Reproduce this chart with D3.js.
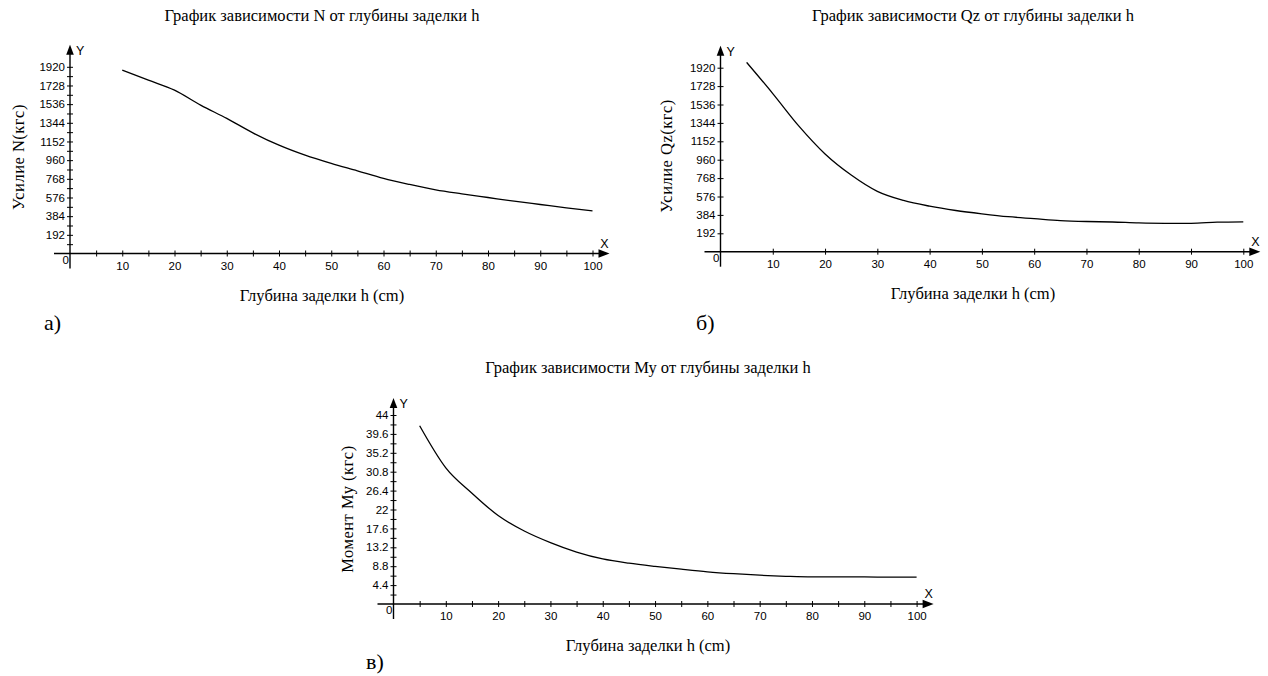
<!DOCTYPE html>
<html>
<head>
<meta charset="utf-8">
<script src="https://cdnjs.cloudflare.com/ajax/libs/d3/7.8.5/d3.min.js"></script>
<style>
body{margin:0;background:#fff;}
.tickText{font-family:"Liberation Sans",Arial,sans-serif;font-size:11.5px;fill:#000;}
.serif{font-family:"Liberation Serif","Times New Roman",serif;fill:#000;}
</style>
</head>
<body>
<script>
// values
var depthN=[10,15,20,25,30,35,40,45,50,55,60,65,70,75,80,85,90,95,100];
var forceN=[1886,1783,1680,1526,1389,1241,1114,1011,926,850,772,710,655,614,576,538,504,470,438];

var depthQz=[5,10,15,20,25,30,35,40,45,50,55,60,65,70,75,80,85,90,95,100];
var forceQz=[1975,1650,1310,1020,800,630,535,475,430,395,365,345,325,315,310,300,296,296,308,312];

var depthMy=[5,10,15,20,25,30,35,40,45,50,55,60,65,70,75,80,85,90,95,100];
var momentMy=[41.5,31.7,25.8,20.6,17.0,14.3,12.1,10.5,9.5,8.75,8.1,7.5,7.05,6.7,6.45,6.3,6.3,6.3,6.25,6.25];

var depthTicks=[10,20,30,40,50,60,70,80,90,100];
var depthMinor=[5,15,25,35,45,55,65,75,85,95];
var forceTicks=[192,384,576,768,960,1152,1344,1536,1728,1920];
var forceMinor=[96,288,480,672,864,1056,1248,1440,1632,1824];
var momentTicks=[4.4,8.8,13.2,17.6,22,26.4,30.8,35.2,39.6,44];
var momentMinor=[2.2,6.6,11,15.4,19.8,24.2,28.6,33,37.4,41.8];

var svg=d3.select("body").append("svg")
          .attr("width",1268)
          .attr("height",676);

var drawChart=function(c)
{
  var xScale=d3.scaleLinear()
               .domain([0,100])
               .range(c.xRange);
  var yScale=d3.scaleLinear()
               .domain([0,c.yMax])
               .range(c.yRange);
  var x0=xScale(0), y0=yScale(0);
  var xEnd=xScale(100), yTop=yScale(c.yMax)-c.arrowGap;

  var g=svg.append("g").classed("chart",true);

  // x axis
  var xAxis=d3.axisBottom(xScale)
              .tickValues(depthTicks.concat(c.xMinor))
              .tickFormat(function(d){ return depthTicks.indexOf(d)>=0 ? d : ""; })
              .tickSize(0)
              .tickPadding(8);
  var gx=g.append("g").classed("xAxis",true)
          .attr("transform","translate(0,"+y0+")")
          .call(xAxis);
  gx.select(".domain").remove();
  gx.selectAll(".tick line").attr("y1",-3).attr("y2",3).attr("stroke","#000");
  gx.selectAll(".tick text").attr("class","tickText");

  // y axis
  var yAxis=d3.axisLeft(yScale)
              .tickValues(c.yTicks.concat(c.yMinor))
              .tickFormat(function(d){ return c.yTicks.indexOf(d)>=0 ? d : ""; })
              .tickSize(0)
              .tickPadding(5);
  var gy=g.append("g").classed("yAxis",true)
          .attr("transform","translate("+x0+",0)")
          .call(yAxis);
  gy.select(".domain").remove();
  gy.selectAll(".tick line").attr("x1",-3).attr("x2",3).attr("stroke","#000");
  gy.selectAll(".tick text").attr("class","tickText");

  // axis lines with arrows
  g.append("line")
   .attr("x1",x0-16).attr("y1",y0)
   .attr("x2",xEnd+10).attr("y2",y0)
   .attr("stroke","#000").attr("stroke-width",1.4);
  g.append("line")
   .attr("x1",x0).attr("y1",y0+15)
   .attr("x2",x0).attr("y2",yTop+6)
   .attr("stroke","#000").attr("stroke-width",1.4);
  g.append("path")
   .attr("d","M"+(xEnd+6)+","+(y0-4.3)+"L"+(xEnd+17)+","+y0+"L"+(xEnd+6)+","+(y0+4.3)+"Z")
   .attr("fill","#000");
  g.append("path")
   .attr("d","M"+(x0-3.8)+","+(yTop+10)+"L"+x0+","+yTop+"L"+(x0+3.8)+","+(yTop+10)+"Z")
   .attr("fill","#000");

  g.append("text").attr("class","tickText")
   .attr("x",xEnd+12).attr("y",y0-6)
   .attr("text-anchor","middle")
   .style("font-size","12.5px")
   .text("X");
  g.append("text").attr("class","tickText")
   .attr("x",x0+6).attr("y",yTop+10)
   .style("font-size","12.5px")
   .text("Y");
  g.append("text").attr("class","tickText")
   .attr("x",x0-1).attr("y",y0+10)
   .attr("text-anchor","end")
   .text("0");

  // the curve
  var line=d3.line()
             .x(function(d){ return xScale(d[0]); })
             .y(function(d){ return yScale(d[1]); })
             .curve(d3.curveMonotoneX);
  g.append("path")
   .datum(d3.zip(c.xs,c.ys))
   .attr("d",line)
   .attr("fill","none")
   .attr("stroke","#000")
   .attr("stroke-width",1.3);

  // texts
  g.append("text").attr("class","serif")
   .attr("x",c.center).attr("y",c.titleY)
   .attr("text-anchor","middle")
   .style("font-size","16.5px")
   .text(c.title);
  g.append("text").attr("class","serif")
   .attr("x",c.center).attr("y",y0+47)
   .attr("text-anchor","middle")
   .style("font-size","16.5px")
   .text("Глубина заделки h (cm)");
  g.append("text").attr("class","serif")
   .attr("transform","translate("+c.yLabelX+","+c.yLabelY+") rotate(-90)")
   .attr("text-anchor","middle")
   .style("font-size","16.5px")
   .style("letter-spacing","0.5px")
   .text(c.yLabel);
  g.append("text").attr("class","serif")
   .attr("x",c.letterX).attr("y",c.letterY)
   .style("font-size","22px")
   .text(c.letter);
};

drawChart({
  xs:depthN, ys:forceN, yMax:1920,
  xRange:[70,592.5], yRange:[253.5,66.8], arrowGap:22,
  yTicks:forceTicks, yMinor:forceMinor, xMinor:depthMinor,
  title:"График зависимости N от глубины заделки h", titleY:21, center:322,
  yLabel:"Усилие N(кгс)", yLabelX:24, yLabelY:157,
  letter:"а)", letterX:44, letterY:330
});

drawChart({
  xs:depthQz, ys:forceQz, yMax:1920,
  xRange:[720.5,1243.3], yRange:[251.7,67.7], arrowGap:22,
  yTicks:forceTicks, yMinor:[], xMinor:[],
  title:"График зависимости Qz от глубины заделки h", titleY:21, center:973,
  yLabel:"Усилие Qz(кгс)", yLabelX:672, yLabelY:156,
  letter:"б)", letterX:696, letterY:330
});

drawChart({
  xs:depthMy, ys:momentMy, yMax:44,
  xRange:[393.5,916.6], yRange:[604,415], arrowGap:17,
  yTicks:momentTicks, yMinor:momentMinor, xMinor:depthMinor,
  title:"График зависимости Му от глубины заделки h", titleY:373, center:648,
  yLabel:"Момент Му (кгс)", yLabelX:353, yLabelY:509,
  letter:"в)", letterX:366, letterY:669
});
</script>
</body>
</html>
